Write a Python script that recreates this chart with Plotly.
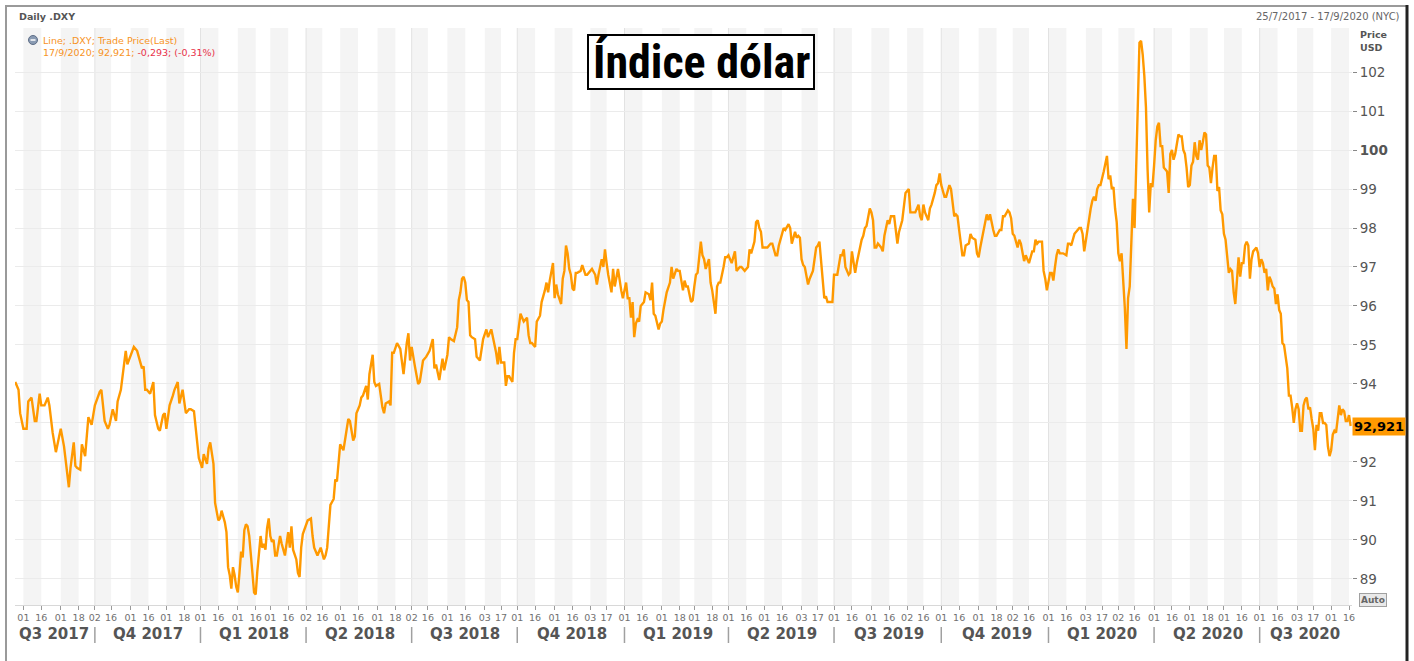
import datetime as dt
import plotly.graph_objects as go

# ---------------- data ----------------
d2017 = ["07-25","07-27","07-28","08-01","08-03","08-04","08-08","08-10","08-11","08-15","08-16","08-18",
         "08-22","08-23","08-25","08-29","08-31","09-01","09-05","09-07","09-08","09-11","09-13","09-14","09-15",
         "09-19","09-20","09-22","09-26","09-28","10-02","10-05","10-06","10-10","10-12","10-13","10-17","10-19",
         "10-20","10-24","10-26","10-27","10-30","11-01","11-03","11-07","11-09","11-10","11-13","11-14","11-15",
         "11-17","11-21","11-22","11-24","11-27","11-29","11-30","12-01","12-05","12-07","12-08","12-12","12-13",
         "12-15","12-19","12-21","12-22","12-26","12-27","12-29"]
v2017 = [94.05,93.85,93.25,92.85,92.85,93.55,93.65,93.05,93.05,93.75,93.45,93.45,
         93.65,93.45,92.75,92.25,92.65,92.85,92.4,91.6,91.35,91.85,92.5,91.9,91.85,
         91.8,92.45,92.15,93.15,92.95,93.45,93.8,93.85,93.05,92.85,92.95,93.35,93.05,
         93.55,93.85,94.55,94.85,94.5,94.75,94.95,94.85,94.5,94.4,94.45,93.85,93.85,
         93.75,94.05,93.2,92.85,92.8,93.2,93.25,92.85,93.45,93.7,93.85,94.05,93.5,
         93.85,93.25,93.35,93.35,93.3,92.85,92.1]

d2018 = ["01-02","01-03","01-05","01-08","01-09","01-11","01-12","01-16","01-17","01-18","01-19","01-22",
         "01-23","01-24","01-25","01-26","01-29","01-30","01-31","02-01","02-02","02-05","02-06","02-07","02-08",
         "02-09","02-12","02-13","02-14","02-15","02-16","02-19","02-20","02-21","02-22","02-23","02-26","02-27",
         "02-28","03-01","03-02","03-05","03-06","03-07","03-09","03-12","03-14","03-16","03-19","03-20","03-21",
         "03-23","03-26","03-27","03-28","03-29","04-03","04-05","04-06","04-09","04-11","04-13","04-17","04-18",
         "04-19","04-20","04-23","04-25","04-26","04-27","05-01","05-03","05-04","05-08","05-09","05-11","05-14",
         "05-15","05-17","05-18","05-21","05-23","05-24","05-25","05-29","05-30","05-31","06-04","06-06","06-07",
         "06-08","06-12","06-13","06-14","06-15","06-19","06-21","06-22","06-25","06-27","06-28","06-29","07-02",
         "07-04","07-06","07-09","07-11","07-13","07-17","07-19","07-20","07-23","07-25","07-27","07-30","08-01",
         "08-02","08-03","08-07","08-09","08-10","08-13","08-14","08-15","08-16","08-17","08-20","08-21","08-22",
         "08-24","08-27","08-29","08-31","09-04","09-05","09-07","09-10","09-12","09-13","09-14","09-17","09-19",
         "09-20","09-21","09-24","09-26","09-27","09-28","10-01","10-03","10-04","10-05","10-09","10-10","10-11",
         "10-12","10-16","10-17","10-19","10-22","10-24","10-25","10-26","10-29","10-31","11-01","11-02","11-05",
         "11-07","11-08","11-09","11-12","11-13","11-14","11-15","11-16","11-19","11-20","11-21","11-23","11-26",
         "11-28","11-29","12-03","12-04","12-06","12-07","12-10","12-12","12-13","12-14","12-17","12-18","12-20",
         "12-21","12-24","12-26","12-28","12-31"]
v2018 = [91.85,92.2,91.95,92.35,92.5,91.95,90.95,90.5,90.55,90.75,90.6,90.45,
         90.2,89.3,89.1,88.75,89.3,89.1,88.8,88.65,89.15,89.7,89.55,90.25,90.4,
         90.35,90.1,89.7,89.15,88.65,88.6,89.2,89.7,90.1,89.8,89.9,89.75,90.3,
         90.55,90.1,89.95,90.0,89.6,89.6,90.1,89.9,89.6,90.2,89.8,90.35,89.75,
         89.5,89.15,89.05,89.8,90.15,90.5,90.55,90.1,89.8,89.6,89.8,89.5,89.6,
         89.8,90.3,90.9,91.05,91.55,91.5,92.45,92.3,92.55,93.1,93.05,92.55,92.65,
         93.25,93.45,93.65,93.7,93.95,93.6,94.25,94.75,94.05,93.95,94.0,93.4,93.25,
         93.5,93.55,93.45,94.8,94.8,95.05,94.9,94.5,94.25,95.05,95.3,94.6,94.95,
         94.45,94.0,94.05,94.6,94.7,94.85,95.15,94.4,94.5,94.1,94.65,94.35,94.75,
         95.2,95.15,95.1,95.45,96.15,96.35,96.7,96.75,96.6,96.15,96.1,95.25,95.2,
         95.15,94.7,94.6,95.15,95.4,95.2,95.4,95.2,94.8,94.5,94.95,94.55,94.55,
         93.95,94.2,94.2,94.05,94.8,95.15,95.15,95.8,95.7,95.6,95.7,95.25,95.05,
         95.05,94.95,95.6,95.75,96.1,96.4,96.6,96.35,96.65,97.1,96.2,96.55,96.3,
         96.05,96.7,96.9,97.55,97.35,96.95,96.8,96.45,96.4,96.85,96.85,96.9,97.05,
         96.8,96.8,96.9,96.95,96.8,96.55,96.8,97.2,97.0,97.45,97.1,96.8,96.35,
         96.95,96.5,96.95,96.4,96.2]

d2019 = ["01-02","01-03","01-04","01-07","01-08","01-09","01-10","01-11","01-14","01-15","01-17","01-18",
         "01-22","01-23","01-24","01-25","01-28","01-30","01-31","02-01","02-04","02-06","02-08","02-11","02-12",
         "02-14","02-15","02-18","02-20","02-21","02-22","02-25","02-27","02-28","03-01","03-04","03-05","03-07",
         "03-08","03-11","03-12","03-14","03-15","03-18","03-20","03-21","03-22","03-25","03-27","03-28","03-29",
         "04-01","04-03","04-05","04-08","04-10","04-11","04-12","04-15","04-17","04-18","04-19","04-23","04-24",
         "04-25","04-26","04-29","04-30","05-01","05-03","05-06","05-07","05-08","05-10","05-13","05-14","05-16",
         "05-17","05-20","05-22","05-23","05-24","05-28","05-29","05-30","05-31","06-03","06-04","06-05","06-07",
         "06-10","06-12","06-14","06-17","06-18","06-19","06-20","06-21","06-24","06-25","06-27","06-28","07-01",
         "07-03","07-05","07-08","07-09","07-10","07-12","07-15","07-16","07-18","07-19","07-22","07-24","07-25",
         "07-26","07-29","07-31","08-01","08-02","08-05","08-06","08-07","08-09","08-12","08-13","08-15","08-16",
         "08-19","08-21","08-23","08-26","08-28","08-29","08-30","09-03","09-04","09-06","09-09","09-11","09-12",
         "09-13","09-16","09-17","09-19","09-20","09-23","09-25","09-26","09-27","09-30","10-01","10-02","10-03",
         "10-04","10-07","10-08","10-09","10-10","10-11","10-14","10-15","10-16","10-17","10-18","10-21","10-22",
         "10-24","10-25","10-28","10-30","10-31","11-01","11-04","11-06","11-07","11-08","11-11","11-12","11-14",
         "11-15","11-18","11-20","11-21","11-22","11-25","11-27","11-28","11-29","12-02","12-03","12-05","12-06",
         "12-09","12-11","12-12","12-13","12-16","12-18","12-19","12-20","12-23","12-24","12-26","12-27","12-30",
         "12-31"]
v2019 = [96.6,96.2,96.2,95.7,96.1,95.2,95.55,95.65,95.6,96.0,96.1,96.35,
         96.3,96.15,96.6,95.8,95.75,95.4,95.55,95.6,95.9,96.35,96.6,97.0,96.7,
         96.95,96.9,96.9,96.4,96.65,96.5,96.5,96.1,96.15,96.5,96.8,96.85,97.65,
         97.3,97.2,96.95,97.2,96.6,96.4,95.8,96.5,96.6,96.6,97.0,97.25,97.25,
         97.3,97.1,97.4,96.9,97.0,97.0,96.95,96.9,97.0,97.45,97.35,97.65,98.15,
         98.2,98.0,97.9,97.5,97.5,97.5,97.55,97.6,97.6,97.3,97.3,97.55,97.85,
         98.0,97.95,98.1,98.0,97.6,97.9,97.75,97.8,97.75,97.2,97.05,97.0,96.55,
         96.7,96.9,97.5,97.55,97.65,97.2,96.6,96.2,96.25,96.1,96.1,96.1,96.8,
         96.8,97.3,97.3,97.45,97.0,96.8,96.85,97.4,96.85,97.1,97.3,97.7,97.8,
         98.0,98.05,98.5,98.4,98.2,97.5,97.5,97.6,97.5,97.4,97.8,98.2,98.1,
         98.3,98.3,97.6,97.9,98.2,98.5,98.9,99.0,98.4,98.4,98.4,98.6,98.3,
         98.2,98.6,98.4,98.2,98.5,98.6,98.9,99.1,99.15,99.4,99.1,98.95,98.8,
         98.8,98.95,99.1,99.0,98.55,98.3,98.35,98.3,97.95,97.55,97.3,97.3,97.55,
         97.6,97.85,97.75,97.7,97.35,97.25,97.5,97.95,98.1,98.35,98.2,98.35,97.95,
         97.8,97.8,97.95,97.95,98.3,98.3,98.45,98.4,98.25,97.85,97.8,97.5,97.7,
         97.6,97.15,97.3,97.2,97.1,97.4,97.4,97.7,97.6,97.65,97.65,96.9,96.7,
         96.4]

d2020 = ["01-02","01-03","01-06","01-07","01-08","01-09","01-10","01-13","01-14","01-16","01-17","01-20",
         "01-21","01-23","01-24","01-27","01-28","01-29","01-30","01-31","02-03","02-04","02-05","02-06","02-07",
         "02-10","02-11","02-12","02-13","02-14","02-18","02-19","02-20","02-21","02-24","02-25","02-26","02-27",
         "02-28","03-02","03-03","03-04","03-05","03-06","03-09","03-10","03-11","03-12","03-13","03-16","03-17",
         "03-18","03-19","03-20","03-23","03-24","03-25","03-26","03-27","03-30","03-31","04-01","04-02","04-03",
         "04-06","04-07","04-08","04-09","04-13","04-14","04-15","04-16","04-17","04-20","04-21","04-22","04-23",
         "04-24","04-27","04-28","04-29","04-30","05-01","05-04","05-05","05-06","05-07","05-08","05-11","05-12",
         "05-13","05-14","05-15","05-18","05-19","05-20","05-21","05-22","05-25","05-26","05-27","05-28","05-29",
         "06-01","06-02","06-03","06-04","06-05","06-08","06-09","06-10","06-11","06-12","06-15","06-16","06-17",
         "06-18","06-19","06-22","06-23","06-24","06-25","06-26","06-29","06-30","07-01","07-02","07-03","07-06",
         "07-07","07-08","07-09","07-10","07-13","07-14","07-15","07-16","07-17","07-20","07-21","07-22","07-23",
         "07-24","07-27","07-28","07-29","07-30","07-31","08-03","08-04","08-05","08-06","08-07","08-10","08-11",
         "08-12","08-13","08-14","08-17","08-18","08-19","08-20","08-21","08-24","08-25","08-26","08-27","08-28",
         "08-31","09-01","09-02","09-03","09-04","09-07","09-08","09-09","09-10","09-11","09-14","09-15","09-16",
         "09-17"]
v2020 = [96.85,96.85,96.65,97.0,97.3,97.45,97.35,97.35,97.35,97.3,97.6,97.6,
         97.55,97.85,97.9,97.95,98.0,98.0,97.85,97.4,97.7,97.9,98.3,98.5,98.7,
         98.8,98.7,99.0,99.1,99.1,99.45,99.7,99.85,99.25,99.35,99.0,99.05,98.5,
         98.15,97.35,97.15,97.35,96.75,95.95,94.9,96.2,96.5,97.45,98.75,98.0,99.6,
         101.15,102.75,102.8,102.45,101.9,101.1,99.5,98.4,99.15,99.05,99.6,100.25,100.6,
         100.7,100.1,100.1,99.55,99.45,98.9,99.9,100.0,99.75,99.9,100.2,100.4,100.35,
         100.35,100.0,99.9,99.55,99.05,99.1,99.6,99.7,100.2,99.85,99.75,100.25,100.0,
         100.2,100.45,100.4,99.6,99.55,99.15,99.55,99.85,99.85,98.95,99.05,98.45,98.35,
         97.85,97.7,97.2,96.85,96.95,96.9,96.35,96.05,96.65,97.25,96.75,97.1,97.1,
         97.55,97.65,97.55,96.7,97.2,97.4,97.45,97.5,97.35,97.0,97.2,97.1,96.85,
         96.95,96.4,96.75,96.65,96.5,96.45,96.05,96.3,95.9,95.8,95.05,95.0,94.7,
         94.4,93.7,93.7,93.4,93.0,93.35,93.5,93.35,92.8,92.8,93.45,93.6,93.65,
         93.35,93.4,93.1,92.85,92.3,92.95,92.8,93.25,93.25,93.0,93.0,92.95,92.4,
         92.15,92.3,92.7,92.8,92.75,93.1,93.45,93.2,93.35,93.3,93.05,93.05,93.2,
         92.921]

quarter_labels = ["Q3 2017","Q4 2017","Q1 2018","Q2 2018","Q3 2018","Q4 2018","Q1 2019",
                  "Q2 2019","Q3 2019","Q4 2019","Q1 2020","Q2 2020","Q3 2020"]
quarter_starts = ["2017-07-01","2017-10-01","2018-01-01","2018-04-01","2018-07-01","2018-10-01",
                  "2019-01-01","2019-04-01","2019-07-01","2019-10-01","2020-01-01","2020-04-01",
                  "2020-07-01"]
y_ticks = list(range(89, 103))
y_hidden = [93]          # covered by the last-price badge in the reference

dates = ([f"2017-{d}" for d in d2017] + [f"2018-{d}" for d in d2018] +
         [f"2019-{d}" for d in d2019] + [f"2020-{d}" for d in d2020])
values = v2017 + v2018 + v2019 + v2020

START = dt.date(2017, 7, 25)
END = dt.date(2020, 9, 17)

# ---------------- helpers ----------------
L, R, T, B = 15, 62, 28, 56
W, H = 1414, 661
PW, PH = W - L - R, H - T - B


def px(x):
    return (x - L) / PW


def py(y):
    return (H - B - y) / PH


def trading(d):
    while d.weekday() >= 5:
        d += dt.timedelta(days=1)
    return d


ORANGE = "#FF9900"
FONT = "DejaVu Sans"

# half-month ticks and bands
tick_vals, tick_text, shapes = [], [], []
y, m = 2017, 7
while (y, m) <= (2020, 9):
    a = trading(dt.date(y, m, 1))
    b = trading(dt.date(y, m, 16))
    for t in (a, b):
        if START <= t <= END:
            tick_vals.append(t.isoformat())
            tick_text.append(f"{t.day:02d}")
    a2, b2 = max(a, START), min(b, END)
    if a2 < b2:
        shapes.append(dict(type="rect", xref="x", yref="paper", x0=a2.isoformat(), x1=b2.isoformat(),
                           y0=0, y1=1, fillcolor="#f4f4f4", line_width=0, layer="below"))
    m += 1
    if m > 12:
        m, y = 1, y + 1

annotations = []
qs = [trading(dt.date.fromisoformat(s)) for s in quarter_starts]
for i, lab in enumerate(quarter_labels):
    s = max(qs[i], START)
    e = min(qs[i + 1], END) if i + 1 < len(qs) else END
    mid = trading(s + (e - s) / 2)
    annotations.append(dict(x=mid.isoformat(), y=py(634), xref="x", yref="paper", text=f"<b>{lab}</b>",
                            xanchor="center", yanchor="middle",
                            showarrow=False, font=dict(family=FONT, size=15, color="#555555")))
    if i > 0:
        shapes.append(dict(type="line", xref="x", yref="paper", x0=qs[i].isoformat(), x1=qs[i].isoformat(),
                           y0=py(627), y1=py(643), line=dict(color="#a0a0a0", width=1.5)))
        shapes.append(dict(type="line", xref="x", yref="paper", x0=qs[i].isoformat(), x1=qs[i].isoformat(),
                           y0=0, y1=1, line=dict(color="#e2e2e2", width=1), layer="below"))

# outer frame, title box, legend icon
shapes += [
    dict(type="line", xref="paper", yref="paper", x0=px(6), x1=px(6), y0=py(5), y1=py(661),
         line=dict(color="#9a9a9a", width=2)),
    dict(type="line", xref="paper", yref="paper", x0=px(5), x1=px(1407), y0=py(6), y1=py(6),
         line=dict(color="#9a9a9a", width=2)),
    dict(type="line", xref="paper", yref="paper", x0=px(1407), x1=px(1407), y0=py(5), y1=py(661),
         line=dict(color="#222222", width=3)),
    dict(type="rect", xref="paper", yref="paper", x0=px(588), x1=px(814), y0=py(35), y1=py(89),
         fillcolor="white", line=dict(color="black", width=2), layer="above"),
    dict(type="circle", xref="paper", yref="paper", xsizemode="pixel", ysizemode="pixel",
         xanchor=px(33), yanchor=py(40), x0=-4.5, x1=4.5, y0=-4.5, y1=4.5,
         fillcolor="#8a9bb3", line=dict(color="#5f6f88", width=1)),
    dict(type="line", xref="paper", yref="paper", xsizemode="pixel", ysizemode="pixel",
         xanchor=px(33), yanchor=py(40), x0=-2.5, x1=2.5, y0=0, y1=0,
         line=dict(color="white", width=1.5)),
]


def note(xp, yp, text, size, color, xanchor="left", bold=False, **kw):
    return dict(x=px(xp), y=py(yp), xref="paper", yref="paper", xanchor=xanchor, yanchor="middle",
                text=f"<b>{text}</b>" if bold else text, showarrow=False,
                font=dict(family=kw.pop("family", FONT), size=size, color=color), **kw)


annotations += [
    note(17, 17, "Daily .DXY", 9.5, "#555555", bold=True),
    note(1402, 17, "25/7/2017 - 17/9/2020 (NYC)", 10, "#666666", xanchor="right"),
    note(41, 40, "Line; .DXY; Trade Price(Last)", 9.5, "#F7931E"),
    note(41, 53, "17/9/2020; 92,921; <span style='color:#E8334A'>-0,293; (-0,31%)</span>", 9.5, "#F7931E"),
    note(1358, 34, "Price", 9.5, "#555555", bold=True),
    note(1358, 47, "USD", 9.5, "#555555", bold=True),
    note(701, 62, "Índice dólar", 46, "black", xanchor="center", bold=True,
         family="Liberation Sans Narrow, Arial Narrow, Roboto Condensed, DejaVu Sans Condensed"),
    note(1373, 600, "Auto", 9, "#666666", xanchor="center", bold=True, bgcolor="#e9e9e9",
         bordercolor="#a0a0a0", borderwidth=1, borderpad=1),
    dict(x=1, y=values[-1], xref="paper", yref="y", xanchor="left", yanchor="middle", text="<b>92,921</b>",
         showarrow=False, font=dict(family=FONT, size=13, color="black"), bgcolor=ORANGE, borderpad=1),
]

fig = go.Figure(go.Scatter(x=dates, y=values, mode="lines", line=dict(color=ORANGE, width=2.4),
                           hoverinfo="x+y"))

fig.update_layout(
    width=W, height=H, autosize=False,
    margin=dict(l=L, r=R, t=T, b=B),
    paper_bgcolor="white", plot_bgcolor="white",
    showlegend=False,
    shapes=shapes, annotations=annotations,
    font=dict(family=FONT),
    xaxis=dict(type="date", range=["2017-07-24 20:00", "2020-09-17 20:00"],
               rangebreaks=[dict(bounds=["sat", "mon"])],
               tickmode="array", tickvals=tick_vals, ticktext=tick_text,
               tickfont=dict(family=FONT, size=9.5, color="#707070"),
               ticks="outside", ticklen=4, tickcolor="#9a9a9a",
               showgrid=False, showline=True, linecolor="#d8d8d8", zeroline=False),
    yaxis=dict(side="right", range=[88.33, 103.13], tickmode="array", tickvals=y_ticks,
               ticktext=["" if v in y_hidden else (f"<b>{v}</b>" if v == 100 else str(v)) for v in y_ticks],
               tickfont=dict(family=FONT, size=13.5, color="#555555"),
               ticks="outside", ticklen=4, tickcolor="#888888",
               showgrid=True, gridcolor="#ebebeb", gridwidth=1, zeroline=False, showline=False),
)

fig.write_html("out.html", config={"displayModeBar": False},
               post_script="document.body.style.margin='0px';")
